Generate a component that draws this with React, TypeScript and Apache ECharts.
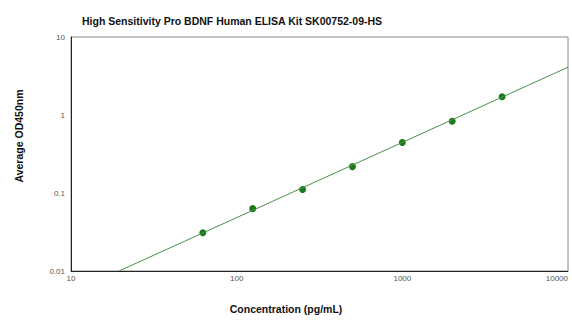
import React, { useEffect, useRef } from "react";
import * as echarts from "echarts";

const concentrations = [62.5, 125, 250, 500, 1000, 2000, 4000];
const odValues = [0.031, 0.063, 0.111, 0.218, 0.445, 0.83, 1.71];
const fitX = [19.5, 10000];
const fitY = [0.01, 4.1];
const titleText = "High Sensitivity Pro BDNF Human ELISA Kit SK00752-09-HS";
const xName = "Concentration (pg/mL)";
const yName = "Average OD450nm";

export default function App() {
  const ref = useRef<HTMLDivElement>(null);
  useEffect(() => {
    const chart = echarts.init(ref.current!, null, { renderer: "svg" });
    const font = "Arial, 'Liberation Sans', sans-serif";
    chart.setOption({
      animation: false,
      backgroundColor: "#ffffff",
      title: {
        text: titleText,
        left: 77,
        top: 10,
        textStyle: { fontSize: 10.5, fontWeight: "bold", color: "#111", fontFamily: font },
      },
      grid: {
        left: 71,
        right: 4,
        top: 37,
        bottom: 49,
        show: true,
        borderColor: "#888",
        borderWidth: 1,
        backgroundColor: "transparent",
        containLabel: false,
        outerBoundsMode: "none",
      },
      xAxis: {
        type: "log",
        logBase: 10,
        min: 10,
        max: 10000,
        axisLine: { show: true, lineStyle: { color: "#222", width: 1 } },
        axisTick: { show: false },
        splitLine: { show: false },
        minorTick: { show: false },
        axisLabel: {
          fontSize: 8,
          color: "#555",
          fontFamily: font,
          margin: 3,
          alignMaxLabel: "right",
          formatter: (v: number) => String(Math.round(v)),
        },
      },
      yAxis: {
        type: "log",
        logBase: 10,
        min: 0.01,
        max: 10,
        axisLine: { show: true, lineStyle: { color: "#222", width: 1 } },
        axisTick: { show: false },
        splitLine: { show: false },
        axisLabel: { fontSize: 8, color: "#555", fontFamily: font, margin: 6 },
      },
      graphic: [
        {
          type: "text",
          x: 286,
          y: 309,
          style: {
            text: xName,
            fill: "#111",
            font: "bold 10.5px Arial, 'Liberation Sans', sans-serif",
            align: "center",
            verticalAlign: "middle",
          },
        },
        {
          type: "text",
          x: 18.5,
          y: 136,
          rotation: Math.PI / 2,
          style: {
            text: yName,
            fill: "#111",
            font: "bold 10.5px Arial, 'Liberation Sans', sans-serif",
            align: "center",
            verticalAlign: "middle",
          },
        },
      ],
      series: [
        {
          type: "line",
          data: fitX.map((x, i) => [x, fitY[i]]),
          showSymbol: false,
          symbol: "none",
          lineStyle: { color: "#4c8f4c", width: 1 },
          silent: true,
        },
        {
          type: "scatter",
          data: concentrations.map((x, i) => [x, odValues[i]]),
          symbolSize: 7,
          itemStyle: { color: "#1a7a1a", opacity: 1 },
        },
      ],
    });
    return () => chart.dispose();
  }, []);
  return <div ref={ref} style={{ width: 572, height: 320, position: "absolute", left: 0, top: 0 }} />;
}
